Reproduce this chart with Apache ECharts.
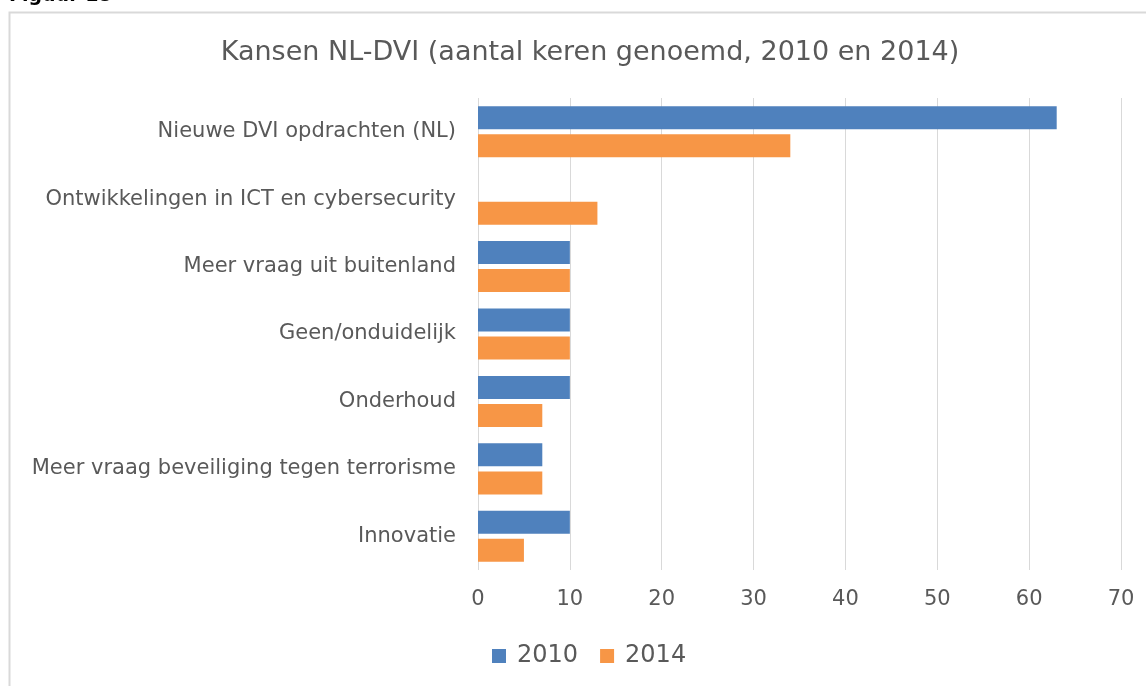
<!DOCTYPE html>
<html>
<head>
<meta charset="utf-8">
<script src="https://cdn.jsdelivr.net/npm/echarts@6/dist/echarts.min.js"></script>
<style>
html, body { margin: 0; padding: 0; background: #fff; }
#main { width: 1146px; height: 686px; }
</style>
</head>
<body>
<div id="main"></div>
<script>
// categorieen (van boven naar beneden)
var categories = [
    'Nieuwe DVI opdrachten (NL)',
    'Ontwikkelingen in ICT en cybersecurity',
    'Meer vraag uit buitenland',
    'Geen/onduidelijk',
    'Onderhoud',
    'Meer vraag beveiliging tegen terrorisme',
    'Innovatie'
];
var values2010 = [63, 0, 10, 10, 10, 7, 10];
var values2014 = [34, 13, 10, 10, 7, 7, 5];

var myChart = echarts.init(document.getElementById('main'));
var font = 'DejaVu Sans, Verdana, sans-serif';

var opt = {
    animation: false,
    color: ['#4f81bd', '#f79646'],
    textStyle: { fontFamily: font },
    title: {
        text: 'Kansen NL-DVI (aantal keren genoemd, 2010 en 2014)',
        left: 585, top: 34, textAlign: 'center',
        textStyle: { fontSize: 27, fontWeight: 'normal', color: '#595959', fontFamily: font }
    },
    graphic: [
        { // kader van de figuur
            type: 'rect', shape: { x: 9.5, y: 12.5, width: 1150, height: 700 },
            style: { fill: 'none', stroke: '#d9d9d9', lineWidth: 2 }, silent: true
        },
        { // afgesneden kop
            type: 'text', left: 9, top: -13,
            style: { text: 'Figuur 18', fontSize: 19, fontWeight: 'bold', fill: '#000', fontFamily: font }
        }
    ],
    legend: {
        data: ['2010', '2014'],
        left: 487, top: 639,
        itemWidth: 14, itemHeight: 14, itemGap: 22,
        icon: 'rect',
        textStyle: { fontSize: 24, color: '#595959', fontFamily: font, padding: [0, 0, 0, 6] }
    },
    grid: { left: 478, right: 25, top: 98, bottom: 116, containLabel: false },
    xAxis: {
        type: 'value', min: 0, max: 70, interval: 10,
        axisLine: { show: false },
        axisTick: { show: false },
        splitLine: { lineStyle: { color: '#d9d9d9', width: 1 } },
        axisLabel: { fontSize: 21, color: '#595959', margin: 19, fontFamily: font }
    },
    yAxis: {
        type: 'category', data: categories, inverse: true,
        axisLine: { show: false },
        axisTick: { show: false },
        axisLabel: { fontSize: 21, color: '#595959', margin: 22, fontFamily: font }
    },
    series: [
        { name: '2010', type: 'bar', data: values2010, barWidth: 23, barGap: '22%' },
        { name: '2014', type: 'bar', data: values2014, barWidth: 23 }
    ]
};
myChart.setOption(opt);
</script>
</body>
</html>
